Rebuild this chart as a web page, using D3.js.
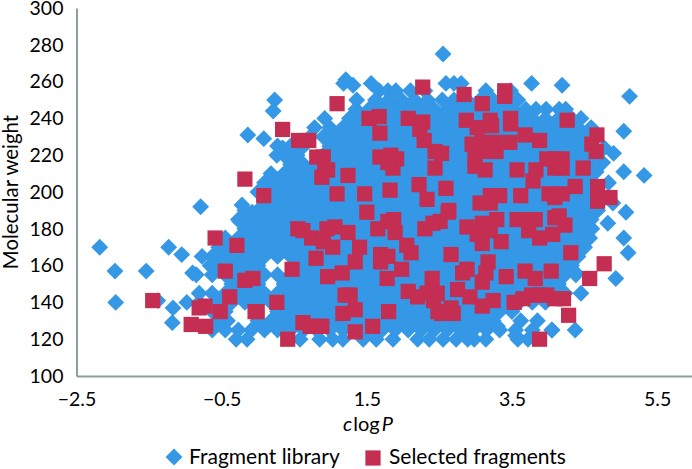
<!DOCTYPE html>
<html>
<head>
<meta charset="utf-8">
<script src="https://cdn.jsdelivr.net/npm/d3@7"></script>
<style>
  html, body { margin: 0; padding: 0; background: #fff; }
  text { font-family: Lato, "Open Sans", sans-serif; fill: #000; }
</style>
</head>
<body>
<div id="chart"></div>
<script>
// Values: clogP on x, molecular weight on y
var xTicks = [-2.5, -0.5, 1.5, 3.5, 5.5]
var yTicks = [100, 120, 140, 160, 180, 200, 220, 240, 260, 280, 300]
var legendLabels = ["Fragment library", "Selected fragments"]

// Fragment library, the dense part: one list of clogP for each molecular weight
var libraryWeights = [120, 125, 130, 135, 140, 145, 150, 155, 160, 165, 170, 175, 180, 185, 190, 195, 200, 205, 210, 215, 220, 225, 230, 235, 240, 245, 250, 255]
var libraryLogP = [
  [-0.3,-0.15,0.58,0.85,1.03,1.17,1.45,1.63,1.86,2.2,2.36,2.55,2.73,2.89,2.98,3.14,3.58,3.72],
  [-0.63,-0.45,-0.27,-0.09,0.09,0.27,0.45,0.63,0.81,0.99,1.17,1.35,1.53,1.71,1.89,2.07,2.25,2.43,2.61,2.79,2.97,3.15,3.33,3.55,3.78,4.05,4.37],
  [-0.54,-0.42,0,0.18,0.36,0.54,0.72,0.9,1.08,1.26,1.44,1.62,1.8,1.98,2.16,2.34,2.52,2.7,2.88,3.06,3.24,3.62,3.85],
  [-0.63,-0.45,0.27,0.45,0.63,0.81,0.99,1.17,1.35,1.53,1.71,1.89,2.07,2.25,2.43,2.61,2.79,2.97,3.15,3.33,3.5],
  [-0.98,-0.81,-0.54,-0.36,-0.18,0,0.18,0.36,0.54,0.72,0.9,1.08,1.26,1.44,1.62,1.8,1.98,2.16,2.34,2.52,2.7,2.88,3.06,3.24,3.42,3.6,3.78,3.96],
  [-0.81,-0.63,-0.45,-0.27,-0.09,0.09,0.27,0.45,0.63,0.81,0.99,1.17,1.35,1.53,1.71,1.89,2.07,2.25,2.43,2.61,2.79,2.97,3.15,3.33,3.51,3.69,3.87,4.05,4.23,4.45],
  [-0.36,-0.18,0,0.36,0.54,0.72,0.9,1.08,1.26,1.44,1.62,1.8,1.98,2.16,2.34,2.52,2.7,2.88,3.06,3.24,3.42,3.6,3.78,3.96,4.14],
  [-0.85,-0.63,-0.45,-0.27,-0.09,0.09,0.27,0.45,0.63,0.81,0.99,1.17,1.35,1.53,1.71,1.89,2.07,2.25,2.43,2.61,2.79,2.97,3.15,3.33,3.51,3.69,3.87,4.05,4.23,4.38],
  [-0.66,-0.54,-0.36,-0.18,0,0.54,0.72,0.9,1.08,1.26,1.44,1.62,1.8,1.98,2.16,2.34,2.52,2.7,2.88,3.06,3.24,3.42,3.6,3.78,3.96,4.14,4.32],
  [-0.77,-0.63,-0.45,-0.27,-0.09,0.09,0.27,0.45,0.63,0.81,0.99,1.17,1.35,1.53,1.71,1.89,2.07,2.25,2.43,2.61,2.79,2.97,3.15,3.33,3.51,3.69,3.87,4.05,4.23,4.41],
  [-0.54,-0.36,-0.18,0,0.18,0.36,0.54,0.72,0.9,1.08,1.26,1.44,1.62,1.8,1.98,2.16,2.34,2.52,2.7,2.88,3.06,3.24,3.42,3.6,3.78,3.96,4.14,4.32,4.5],
  [-0.45,-0.27,-0.09,0.09,0.27,0.45,0.63,0.81,0.99,1.17,1.35,1.53,1.71,1.89,2.07,2.25,2.43,2.61,2.79,2.97,3.15,3.33,3.51,3.69,3.87,4.05,4.23,4.41,4.57],
  [-0.18,0,0.18,0.36,0.54,0.72,0.9,1.08,1.26,1.44,1.62,1.8,1.98,2.16,2.34,2.52,2.7,2.88,3.06,3.24,3.42,3.6,3.78,3.96,4.14,4.32,4.5,4.6],
  [-0.27,-0.09,0.09,0.27,0.45,0.63,0.81,0.99,1.17,1.35,1.53,1.71,1.89,2.07,2.25,2.43,2.61,2.79,2.97,3.15,3.33,3.51,3.69,3.87,4.05,4.23,4.41,4.59],
  [-0.18,0,0.18,0.36,0.54,0.72,0.9,1.08,1.26,1.44,1.62,1.8,1.98,2.16,2.34,2.52,2.7,2.88,3.06,3.24,3.42,3.6,3.78,3.96,4.14,4.32,4.5,4.68],
  [0.09,0.27,0.45,0.63,0.81,0.99,1.17,1.35,1.53,1.71,1.89,2.07,2.25,2.43,2.61,2.79,2.97,3.15,3.33,3.51,3.69,3.87,4.05,4.23,4.41,4.59,4.72],
  [0,0.18,0.36,0.54,0.72,0.9,1.08,1.26,1.44,1.62,1.8,1.98,2.16,2.34,2.52,2.7,2.88,3.06,3.24,3.42,3.6,3.78,3.96,4.14,4.32,4.5,4.66],
  [0.09,0.27,0.45,0.63,0.81,0.99,1.17,1.35,1.53,1.71,1.89,2.07,2.25,2.43,2.61,2.79,2.97,3.15,3.33,3.51,3.69,3.87,4.05,4.23,4.41,4.59],
  [0.18,0.36,0.54,0.72,0.9,1.08,1.26,1.44,1.62,1.8,1.98,2.16,2.34,2.52,2.7,2.88,3.06,3.24,3.42,3.6,3.78,3.96,4.14,4.32,4.5,4.62],
  [0.45,0.63,0.81,0.99,1.17,1.35,1.53,1.71,1.89,2.07,2.25,2.43,2.61,2.79,2.97,3.15,3.33,3.51,3.69,3.87,4.05,4.23,4.41,4.59],
  [0.36,0.54,0.9,1.08,1.26,1.44,1.62,1.8,1.98,2.16,2.34,2.52,2.7,2.88,3.06,3.24,3.42,3.6,3.78,3.96,4.14,4.32,4.5,4.62],
  [0.27,0.45,0.63,0.99,1.17,1.35,1.53,1.71,1.89,2.07,2.25,2.43,2.61,2.79,2.97,3.15,3.33,3.51,3.69,3.87,4.05,4.23,4.41,4.59],
  [0.72,0.9,1.08,1.26,1.44,1.62,1.8,1.98,2.16,2.34,2.52,2.7,2.88,3.06,3.24,3.42,3.6,3.78,3.96,4.14,4.32,4.5,4.62],
  [0.78,0.99,1.17,1.35,1.53,1.71,1.89,2.07,2.25,2.43,2.61,2.79,2.97,3.15,3.33,3.51,3.69,3.87,4.05,4.23,4.41,4.59],
  [0.92,1.26,1.44,1.62,1.8,1.98,2.16,2.34,2.52,2.7,2.88,3.06,3.24,3.42,3.6,3.78,3.96,4.14,4.32,4.45],
  [1.35,1.53,1.71,1.89,2.07,2.25,2.43,2.61,2.79,2.97,3.15,3.33,3.51,3.69,3.83,3.97,4.15,4.24],
  [1.36,1.62,1.8,1.98,2.16,2.34,2.54,2.7,2.88,3.06,3.24,3.42,3.58],
  [1.67,1.79,1.9,2.1,2.3,3.14,3.48]
]

// Fragment library, the loose points around the edge: [clogP, molecular weight]
var libraryOutliers = [
  [-2.18,170],[-1.97,157],[-1.54,157],[-1.96,140],[-1.38,141],[-1.23,170],[-1.05,166],[-1.18,129],[-1.17,137],
  [-0.9,156],[-0.79,192],[0.23,250],[0.21,244],[-0.14,231],[0.08,229],[-0.22,193],[-0.08,189],[-0.25,184],
  [0.26,220],[0.34,224],[0.48,222],[0.12,205],[0.4,210],[0.58,213],[1.21,261],[1.18,259],[1.31,258],[1.56,259],
  [2.55,275],[2.59,259],[2.7,259],[2.8,259],[3.77,259],[4.19,258],[5.12,252],[5.04,233],[4.9,221],[5.04,211],
  [5.32,209],[5.07,189],[4.82,183],[5.04,175],[5.1,167],[4.93,153],[4.83,205],[4.75,216],[4.66,211],[4.77,224],
  [4.89,194],[4.38,156],[3.55,122],[3.3,127],[4.05,125]
]

// Selected fragments: [clogP, molecular weight]
var selectedFragments = [
  [0.34,234],[0.56,228],[0.7,228],[-0.18,207],[0.08,198],[0.81,219],[0.9,219],[0.96,212],[0.88,208],[1.09,199],
  [1.24,209],[0.92,212],[2.27,257],[1.09,248],[1.53,240],[1.67,241],[1.68,232],[2.07,240],[2.27,238],[2.23,234],
  [2.29,228],[2.44,222],[2.44,213],[1.68,219],[1.83,220],[1.91,218],[1.86,213],[1.79,216],[1.47,199],[1.82,201],
  [2.22,204],[2.33,196],[1.5,189],[2.84,253],[3.4,255],[3.4,252],[3.09,248],[2.87,239],[3.2,239],[3.48,240],
  [3.02,235],[3.22,236],[3.48,237],[3.68,231],[3.88,228],[2.95,226],[3.09,227],[3.26,227],[3.47,227],[3.28,222],
  [3.09,222],[2.99,218],[2.99,214],[3.13,212],[3.57,212],[3.98,218],[4.09,218],[3.83,212],[3.79,206],[4.09,213],
  [2.59,202],[2.53,221],[2.63,190],[3.62,198],[3.2,198],[3.33,198],[4.01,199],[4.09,197],[3.06,194],[3.2,194],
  [4.26,239],[4.67,231],[4.6,226],[4.66,222],[4.48,213],[4.19,218],[4.19,213],[4.37,203],[4.68,203],[4.68,195],
  [4.85,197],[4.19,199],[-0.59,175],[-0.29,171],[0.55,180],[0.62,179],[0.74,175],[0.8,164],[-0.45,157],[-0.18,152],
  [-0.07,153],[0.47,158],[-0.39,143],[-0.73,138],[-0.52,135],[-0.81,137],[-0.04,135],[-0.01,135],[0.26,140],[-0.72,127],
  [-0.92,128],[0.62,129],[0.72,127],[0.83,127],[0.41,120],[-1.45,141],[0.96,154],[1.16,156],[1.17,134],[1.2,144],
  [0.95,180],[1.06,181],[1.24,178],[1.03,170],[1.4,170],[1.34,162],[0.9,173],[1.79,184],[1.65,180],[1.89,178],
  [2.05,171],[2.11,167],[1.69,166],[1.79,165],[1.69,162],[1.98,158],[1.78,153],[2.07,146],[1.27,144],[1.34,136],
  [1.8,135],[1.34,124],[1.58,127],[2.4,153],[2.2,143],[2.33,145],[2.47,145],[2.3,180],[2.41,183],[2.48,135],
  [0.88,127],[2.62,189],[2.51,184],[2.88,181],[3.09,183],[3.29,185],[3.02,177],[3.09,172],[3.2,179],[3.35,173],
  [3.57,185],[3.71,185],[3.82,185],[3.73,179],[3.88,175],[4.06,177],[4.09,186],[2.66,166],[3.17,162],[3.14,156],
  [2.82,156],[2.88,158],[3.09,151],[3.42,154],[3.68,157],[3.82,153],[4.04,157],[2.75,147],[2.92,143],[3.09,138],
  [3.24,141],[2.66,137],[2.69,134],[2.53,134],[3.53,140],[3.65,142],[3.77,144],[3.88,144],[3.98,144],[4.09,142],
  [4.21,142],[3.88,120],[4.23,182],[4.31,167],[4.77,161],[4.57,153],[4.28,133],[2.42,141],[4.15,187],[1.87,185]
]

var svgWidth = 692
var svgHeight = 469

var libraryColor = "#3498E6"
var selectedColor = "#C42E52"
var axisColor = "#8C9E9E"

var svg = d3.select("#chart")
  .append("svg")
  .attr("width", svgWidth)
  .attr("height", svgHeight)
  .style("display", "block")

var xScale = d3.scaleLinear().domain([-2.5, 5.98]).range([76.5, 692])
var yScale = d3.scaleLinear().domain([100, 300]).range([376, 8])

// Flatten the rows into [clogP, weight] points
var libraryPoints = []
libraryWeights.forEach(function(weight, i) {
  libraryLogP[i].forEach(function(logP) {
    libraryPoints.push([logP, weight])
  })
})
libraryPoints = libraryPoints.concat(libraryOutliers)

var diamond = d3.symbol().type(d3.symbolSquare).size(142)
var square = d3.symbol().type(d3.symbolSquare).size(232)

// Library points first, selected fragments on top
svg.append("g").selectAll("path")
  .data(libraryPoints)
  .enter()
  .append("path")
  .attr("d", diamond)
  .attr("fill", libraryColor)
  .attr("transform", d => `translate(${xScale(d[0])}, ${yScale(d[1])}) rotate(45)`)

svg.append("g").selectAll("path")
  .data(selectedFragments)
  .enter()
  .append("path")
  .attr("d", square)
  .attr("fill", selectedColor)
  .attr("transform", d => `translate(${xScale(d[0])}, ${yScale(d[1])})`)

// Axes
var bottomAxis = d3.axisBottom(xScale)
  .tickValues(xTicks)
  .tickSize(0)
  .tickPadding(16)
  .tickFormat(d3.format(".1f"))

var leftAxis = d3.axisLeft(yScale)
  .tickValues(yTicks)
  .tickSize(0)
  .tickPadding(13)

var xAxis = svg.append("g")
  .attr("transform", "translate(0, 376)")
  .call(bottomAxis)

var yAxis = svg.append("g")
  .attr("transform", "translate(76.5, 0)")
  .call(leftAxis)

svg.selectAll(".domain")
  .attr("stroke", axisColor)
  .attr("stroke-width", 2)

xAxis.selectAll("text").style("font-size", "19.5px")
yAxis.selectAll("text").style("font-size", "19.5px")

// Axis titles
var xTitle = svg.append("text")
  .attr("x", 368)
  .attr("y", 431)
  .attr("text-anchor", "middle")
  .style("font-size", "20px")
xTitle.append("tspan").style("font-style", "italic").text("c")
xTitle.append("tspan").attr("dx", 1).text("log")
xTitle.append("tspan").attr("dx", 2).style("font-style", "italic").text("P")

svg.append("text")
  .attr("transform", "translate(18, 192) rotate(-90)")
  .attr("text-anchor", "middle")
  .style("font-size", "20.4px")
  .text("Molecular weight")

// Legend
svg.append("path")
  .attr("d", diamond)
  .attr("fill", libraryColor)
  .attr("transform", "translate(174, 457) rotate(45)")

svg.append("path")
  .attr("d", square)
  .attr("fill", selectedColor)
  .attr("transform", "translate(373, 458)")

svg.append("text")
  .attr("x", 189)
  .attr("y", 464)
  .style("font-size", "21px")
  .text(legendLabels[0])

svg.append("text")
  .attr("x", 389)
  .attr("y", 464)
  .style("font-size", "21px")
  .text(legendLabels[1])
</script>
</body>
</html>
